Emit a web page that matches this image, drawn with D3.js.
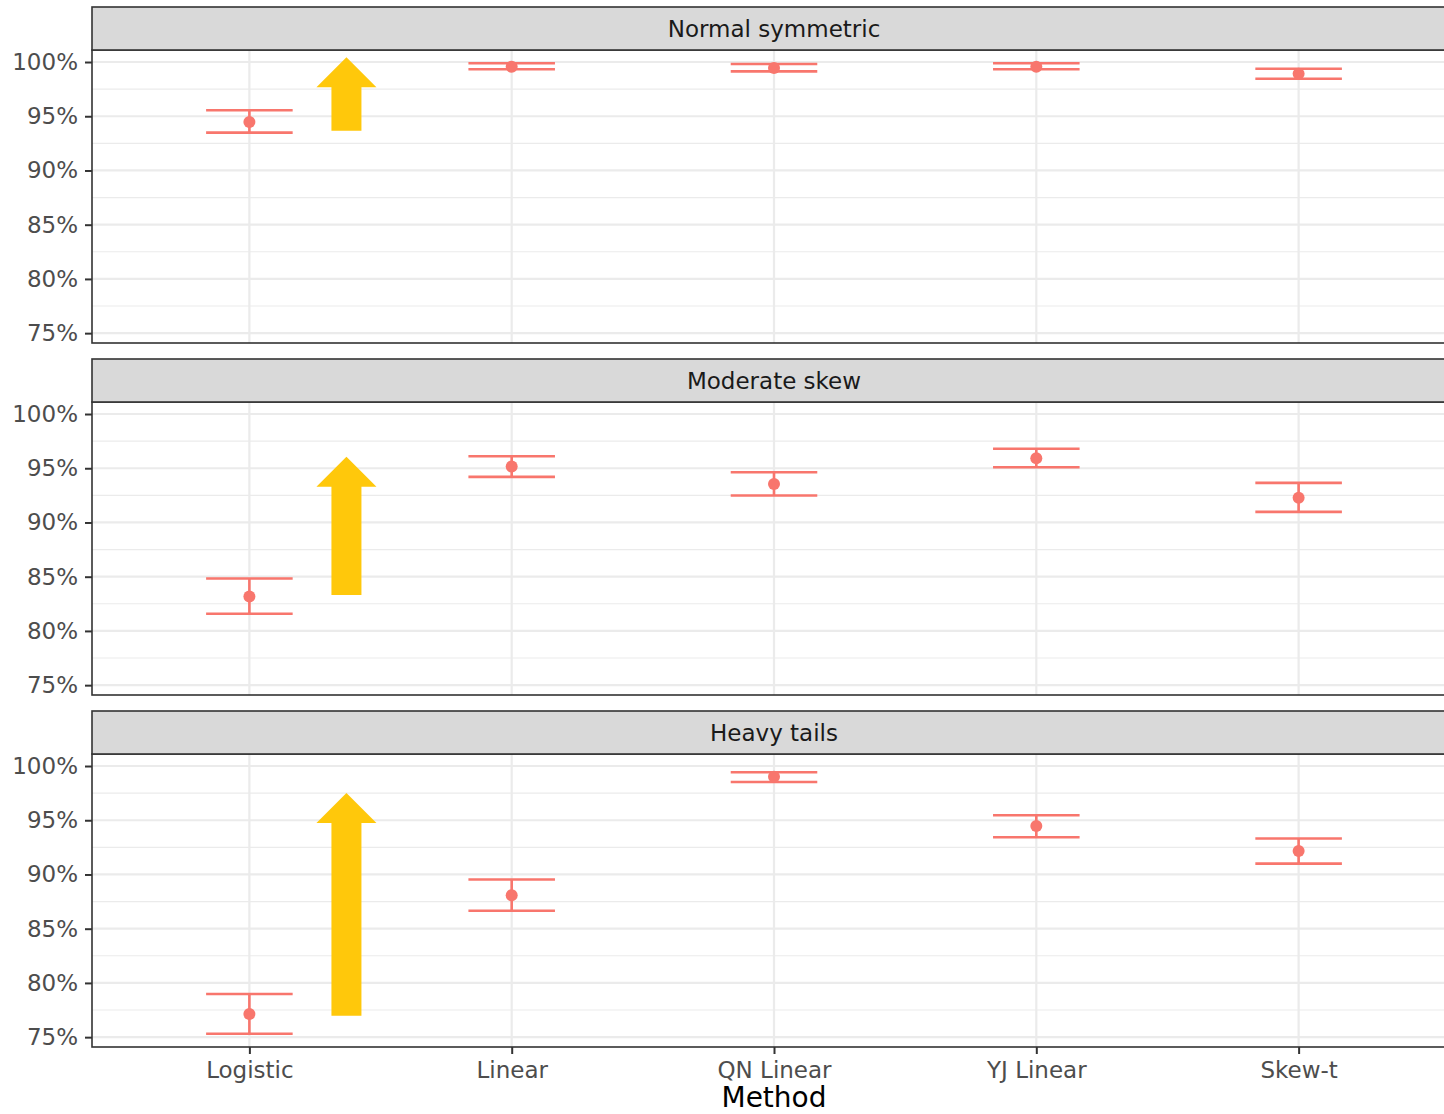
<!DOCTYPE html>
<html>
<head>
<meta charset="utf-8">
<script src="https://cdn.jsdelivr.net/npm/d3@7"></script>
<style>
  body { margin: 0; overflow: hidden; background: #ffffff; }
  svg text { font-family: "DejaVu Sans", sans-serif; }
</style>
</head>
<body>
<svg id="chart"></svg>
<script>
// Coverage of the nominal 95% interval, by method and error distribution
const methods = ["Logistic", "Linear", "QN Linear", "YJ Linear", "Skew-t"];
const scenarios = ["Normal symmetric", "Moderate skew", "Heavy tails"];

// point estimates (%)
const coverage = [
  [94.48, 99.57, 99.45, 99.57, 98.92],
  [83.18, 95.15, 93.55, 95.92, 92.27],
  [77.14, 88.09, 99.01, 94.48, 92.17]
];
// interval bounds (%)
const lower = [
  [93.49, 99.33, 99.14, 99.33, 98.46],
  [81.58, 94.20, 92.48, 95.09, 90.98],
  [75.32, 86.65, 98.53, 93.43, 91.00]
];
const upper = [
  [95.55, 99.88, 99.82, 99.88, 99.38],
  [84.83, 96.10, 94.63, 96.80, 93.65],
  [78.98, 89.53, 99.42, 95.46, 93.31]
];

// improvement arrows next to the Logistic estimate
const arrowPos = 1.37;                 // position on the method axis (1 = first method)
const arrowFrom = [93.67, 83.31, 76.98];
const arrowTo = [100.43, 96.07, 97.51];

const yTicks = [75, 80, 85, 90, 95, 100];
const yMinor = [77.5, 82.5, 87.5, 92.5, 97.5];

// ---- layout ----
const W = 1460, H = 1114;
const panelLeft = 92, panelRight = 1456;
const stripH = 43, panelH = 293, panelGap = 16, topPad = 7;
const errColor = "#F8766D", arrowColor = "#FFC80B";
const textSize = 23;

const svg = d3.select("#chart").attr("width", W).attr("height", H);

// discrete x positions 1..n with 0.6 units of padding on each side
const x = d3.scaleLinear()
  .domain([0.4, methods.length + 0.6])
  .range([panelLeft, panelRight]);
const xPos = i => x(i + 1);
const unit = x(2) - x(1);

// shared y domain: data range expanded by 5% on each side
const allLo = d3.min(lower.flat()), allHi = d3.max(upper.flat());
const padY = (allHi - allLo) * 0.05;
const yDomain = [allLo - padY, allHi + padY];

scenarios.forEach((name, s) => {
  const stripTop = topPad + s * (stripH + panelH + panelGap);
  const pTop = stripTop + stripH, pBot = pTop + panelH;
  const y = d3.scaleLinear().domain(yDomain).range([pBot, pTop]);
  const g = svg.append("g");

  // panel background
  g.append("rect").attr("x", panelLeft).attr("y", pTop)
    .attr("width", panelRight - panelLeft).attr("height", panelH).attr("fill", "#fff");

  // grid
  g.selectAll(".minor").data(yMinor).join("line")
    .attr("x1", panelLeft).attr("x2", panelRight)
    .attr("y1", d => y(d)).attr("y2", d => y(d))
    .attr("stroke", "#EBEBEB").attr("stroke-width", 1.1);
  g.selectAll(".major").data(yTicks).join("line")
    .attr("x1", panelLeft).attr("x2", panelRight)
    .attr("y1", d => y(d)).attr("y2", d => y(d))
    .attr("stroke", "#EBEBEB").attr("stroke-width", 2.2);
  g.selectAll(".vmajor").data(methods).join("line")
    .attr("x1", (d, i) => xPos(i)).attr("x2", (d, i) => xPos(i))
    .attr("y1", pTop).attr("y2", pBot)
    .attr("stroke", "#EBEBEB").attr("stroke-width", 2.2);

  // error bars
  const capHalf = unit * 0.165;
  const eb = g.selectAll(".eb").data(methods).join("g");
  eb.append("line")
    .attr("x1", (d, i) => xPos(i)).attr("x2", (d, i) => xPos(i))
    .attr("y1", (d, i) => y(lower[s][i])).attr("y2", (d, i) => y(upper[s][i]))
    .attr("stroke", errColor).attr("stroke-width", 2.6);
  eb.append("line")
    .attr("x1", (d, i) => xPos(i) - capHalf).attr("x2", (d, i) => xPos(i) + capHalf)
    .attr("y1", (d, i) => y(upper[s][i])).attr("y2", (d, i) => y(upper[s][i]))
    .attr("stroke", errColor).attr("stroke-width", 2.6);
  eb.append("line")
    .attr("x1", (d, i) => xPos(i) - capHalf).attr("x2", (d, i) => xPos(i) + capHalf)
    .attr("y1", (d, i) => y(lower[s][i])).attr("y2", (d, i) => y(lower[s][i]))
    .attr("stroke", errColor).attr("stroke-width", 2.6);
  eb.append("circle")
    .attr("cx", (d, i) => xPos(i)).attr("cy", (d, i) => y(coverage[s][i]))
    .attr("r", 6).attr("fill", errColor);

  // arrow
  const ax = x(arrowPos), shaftHalf = 15, headHalf = 30, headLen = 30;
  const yTip = y(arrowTo[s]), yBase = y(arrowFrom[s]);
  const pts = [
    [ax - shaftHalf, yBase], [ax - shaftHalf, yTip + headLen], [ax - headHalf, yTip + headLen],
    [ax, yTip], [ax + headHalf, yTip + headLen], [ax + shaftHalf, yTip + headLen],
    [ax + shaftHalf, yBase]
  ];
  g.append("polygon").attr("points", pts.map(p => p.join(",")).join(" "))
    .attr("fill", arrowColor);

  // panel border
  g.append("rect").attr("x", panelLeft).attr("y", pTop)
    .attr("width", panelRight - panelLeft).attr("height", panelH)
    .attr("fill", "none").attr("stroke", "#333333").attr("stroke-width", 1.6);

  // strip
  g.append("rect").attr("x", panelLeft).attr("y", stripTop)
    .attr("width", panelRight - panelLeft).attr("height", stripH)
    .attr("fill", "#D9D9D9").attr("stroke", "#333333").attr("stroke-width", 1.6);
  g.append("text").attr("x", (panelLeft + panelRight) / 2).attr("y", stripTop + stripH / 2)
    .attr("dy", "0.36em").attr("text-anchor", "middle")
    .attr("font-size", textSize).attr("fill", "#1A1A1A").text(name);

  // y axis
  const yAxis = d3.axisLeft(y).tickValues(yTicks).tickFormat(d => d + "%")
    .tickSize(7).tickPadding(7);
  const ya = g.append("g").attr("transform", `translate(${panelLeft},0)`).call(yAxis);
  ya.select(".domain").remove();
  ya.selectAll(".tick line").attr("stroke", "#333333").attr("stroke-width", 2);
  ya.selectAll(".tick text").attr("font-size", textSize).attr("fill", "#4D4D4D")
    .attr("font-family", "DejaVu Sans, sans-serif");

  // x axis on the bottom panel only
  if (s === scenarios.length - 1) {
    const xAxis = d3.axisBottom(x).tickValues(methods.map((d, i) => i + 1))
      .tickFormat((d, i) => methods[i]).tickSize(7).tickPadding(8);
    const xa = g.append("g").attr("transform", `translate(0,${pBot})`).call(xAxis);
    xa.select(".domain").remove();
    xa.selectAll(".tick line").attr("stroke", "#333333").attr("stroke-width", 2);
    xa.selectAll(".tick text").attr("font-size", textSize).attr("fill", "#4D4D4D")
      .attr("font-family", "DejaVu Sans, sans-serif");

    svg.append("text").attr("x", (panelLeft + panelRight) / 2).attr("y", pBot + 60)
      .attr("text-anchor", "middle").attr("font-size", 28).attr("fill", "#000")
      .text("Method");
  }
});
</script>
</body>
</html>
